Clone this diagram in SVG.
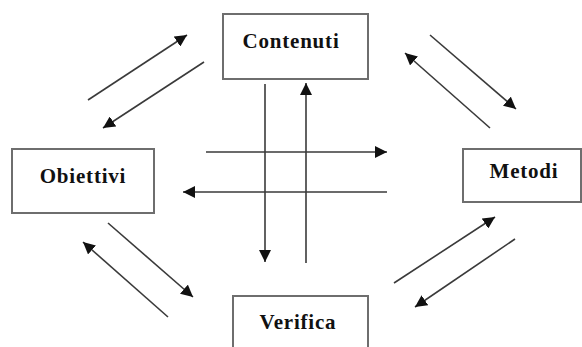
<svg xmlns="http://www.w3.org/2000/svg" width="582" height="347" viewBox="0 0 582 347">
<style>
.box{fill:#fff;stroke:#6e6e6e;stroke-width:2}
.lbl{font-family:"Liberation Serif","Times New Roman",serif;font-weight:bold;font-size:21px;letter-spacing:0.8px;fill:#111;text-anchor:middle}
.c{stroke:#3a3a3a;stroke-width:1.6;fill:none;marker-end:url(#ah)}
</style>
<defs>
<marker id="ah" viewBox="0 0 10 10" refX="10" refY="5" markerWidth="7.5" markerHeight="7.5" orient="auto" markerUnits="strokeWidth">
<path d="M0,0 L10,5 L0,10 z" fill="#111"/>
</marker>
</defs>
<rect width="582" height="347" fill="#fff"/>
<g id="contenuti"><rect class="box" x="223" y="14" width="145" height="65"/><text class="lbl" x="291" y="48">Contenuti</text></g>
<g id="obiettivi"><rect class="box" x="12" y="149" width="142" height="64"/><text class="lbl" x="83" y="183">Obiettivi</text></g>
<g id="metodi"><rect class="box" x="463" y="149" width="118" height="53"/><text class="lbl" x="524" y="178">Metodi</text></g>
<g id="verifica"><rect class="box" x="233" y="296" width="135" height="60"/><text class="lbl" x="298" y="329">Verifica</text></g>
<g id="connectors">
<line class="c" x1="88" y1="100" x2="187" y2="35"/>
<line class="c" x1="204" y1="62" x2="103" y2="128"/>
<line class="c" x1="430" y1="35" x2="516" y2="109"/>
<line class="c" x1="490" y1="128" x2="405" y2="53"/>
<line class="c" x1="108" y1="223" x2="193" y2="297"/>
<line class="c" x1="168" y1="317" x2="83" y2="242"/>
<line class="c" x1="394" y1="283" x2="495" y2="217"/>
<line class="c" x1="515" y1="239" x2="415" y2="307"/>
<line class="c" x1="206" y1="152" x2="387" y2="152"/>
<line class="c" x1="387" y1="192" x2="183" y2="192"/>
<line class="c" x1="265" y1="84" x2="265" y2="262"/>
<line class="c" x1="306" y1="263" x2="306" y2="83"/>
</g>
</svg>
